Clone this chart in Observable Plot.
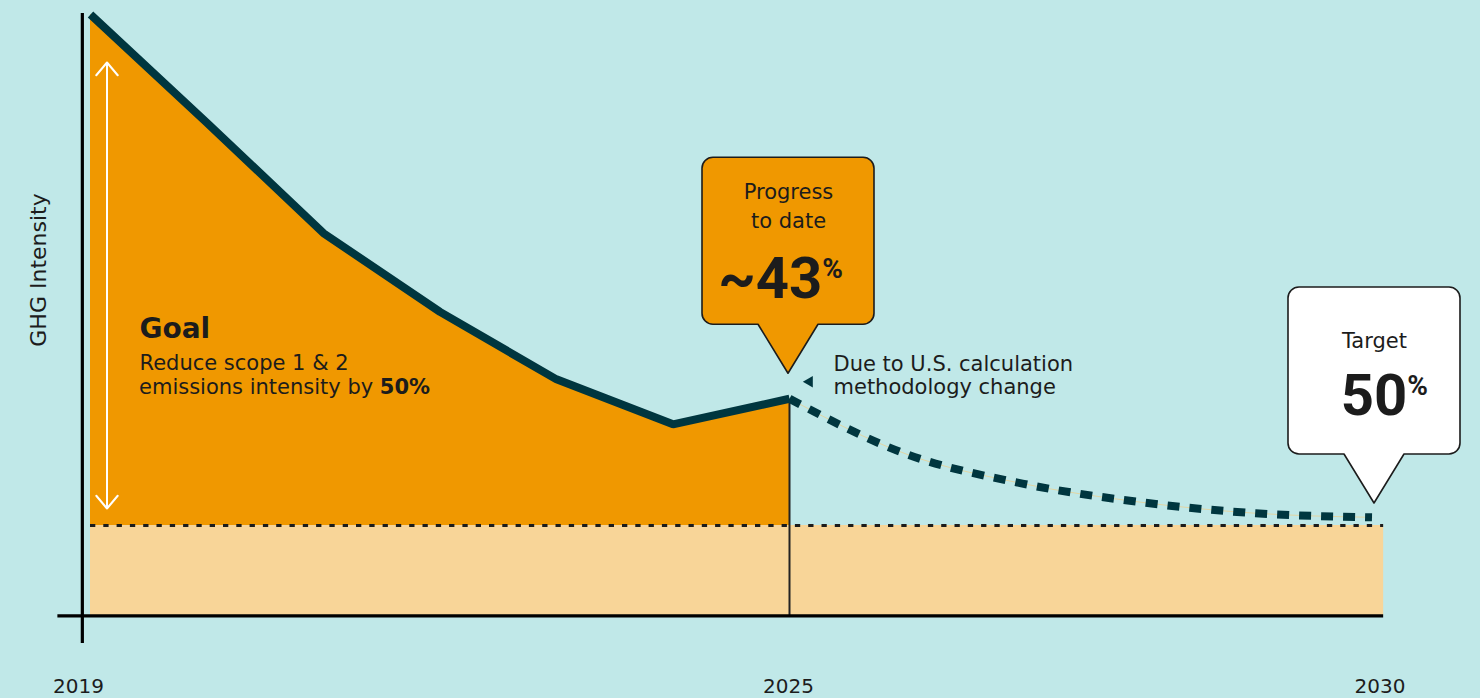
<!DOCTYPE html>
<html>
<head>
<meta charset="utf-8">
<script src="https://cdn.jsdelivr.net/npm/d3@7"></script>
<script src="https://cdn.jsdelivr.net/npm/@observablehq/plot@0.6"></script>
<style>
  html, body { margin: 0; padding: 0; background: #c0e8e8; }
  #chart svg { display: block; }
</style>
</head>
<body>
<div id="chart"></div>
<script>
// ---- data ----
const years = [2019, 2020, 2021, 2022, 2023, 2024, 2025];
const intensity = [100, 89.4, 78.6, 70.9, 64.3, 59.9, 62.4];   // index, 2019 = 100
const pathYears = [2025, 2026, 2027, 2028, 2029, 2030];
const pathIntensity = [62.4, 57.0, 54.1, 52.3, 51.2, 50.8];     // projected path to target
const targetIntensity = 50;                                    // 50% of 2019 baseline
const targetReduction = 50;
const progressReduction = 43;
const tickYears = [2019, 2025, 2030];
const tickLabels = ["2019", "2025", "2030"];

// axis geometry in data units
const axisBase = 41.15;   // value where the x-axis baseline sits
const xEnd = 2030.1;      // right end of the band
const yAxisX = 2018.93;   // position of the vertical axis
const xAxisStart = 2018.72;
const yAxisTop = 100.1, yAxisBottom = 38.45;

// ---- styles ----
const FONT = "'DejaVu Sans', 'Noto Sans', sans-serif";
const NUM_FONT = "Roboto, 'Liberation Sans', sans-serif";
const INK = "#1c1c1c";
const LINE = "#00363f";
const ORANGE = "#f09800";
const SAND = "#f8d598";
const BG = "#c0e8e8";

const series = years.map((year, i) => ({year, value: intensity[i]}));
const path = pathYears.map((year, i) => ({year, value: pathIntensity[i]}));
const first = series[0];
const last = series[series.length - 1];
const end = {year: 2030, value: targetIntensity};

// callout box with a downward pointer; tip anchored near a data point
function callout(point, {fill, dx = 0, dy = 0}) {
  return (index, scales) => {
    const tx = scales.x(point.year) + dx, ty = scales.y(point.value) + dy;
    const w = 172, h = 167, gap = 49, half = 30, r = 11;
    const l = tx - w / 2, rt = tx + w / 2, b = ty - gap, t = b - h;
    const d = `M${tx},${ty} L${tx - half},${b} L${l + r},${b} A${r},${r} 0 0 1 ${l},${b - r}`
      + ` L${l},${t + r} A${r},${r} 0 0 1 ${l + r},${t} L${rt - r},${t} A${r},${r} 0 0 1 ${rt},${t + r}`
      + ` L${rt},${b - r} A${r},${r} 0 0 1 ${rt - r},${b} L${tx + half},${b} Z`;
    return d3.create("svg:path")
      .attr("d", d).attr("fill", fill)
      .attr("stroke", INK).attr("stroke-width", 1.6).attr("stroke-linejoin", "round")
      .node();
  };
}

// big number with superscript percent sign
function figure(point, value, {dx = 0, dy = 0}) {
  return (index, scales) => {
    const t = d3.create("svg:text")
      .attr("x", scales.x(point.year) + dx).attr("y", scales.y(point.value) + dy)
      .attr("text-anchor", "end").attr("fill", INK)
      .attr("font-family", NUM_FONT).attr("font-weight", 700);
    t.append("tspan").attr("font-size", 58).text(value);
    t.append("tspan").attr("font-size", 28).attr("dy", -20).text("%");
    return t.node();
  };
}

// goal description line with a bold number
function goalLine(point, {dx = 0, dy = 0}) {
  return (index, scales) => {
    const t = d3.create("svg:text")
      .attr("x", scales.x(point.year) + dx).attr("y", scales.y(point.value) + dy)
      .attr("text-anchor", "start")
      .attr("fill", INK).attr("font-family", FONT).attr("font-size", 21)
      .attr("style", "white-space: pre");
    t.append("tspan").text("emissions intensity by ");
    t.append("tspan").attr("font-weight", 700).text(`${targetReduction}%`);
    return t.node();
  };
}

const goalAnchor = {year: first.year, value: targetIntensity};

const chart = Plot.plot({
  width: 1480,
  height: 698,
  margin: 0,
  style: {background: BG, fontFamily: FONT, overflow: "visible"},
  x: {domain: [2019, 2025], range: [90, 789], axis: null},
  y: {domain: [50, 100], range: [525, 14], axis: null},
  marks: [
    // target band below the goal level
    Plot.rect([targetIntensity], {x1: first.year, x2: xEnd, y1: axisBase, y2: d => d, fill: SAND}),
    // reduction achieved so far
    Plot.areaY(series, {x: "year", y1: targetIntensity, y2: "value", fill: ORANGE}),
    // dotted target level
    Plot.ruleY([targetIntensity], {x1: first.year, x2: xEnd, stroke: INK, strokeWidth: 3, strokeDasharray: "5.3,8"}),
    // drop line at 2025
    Plot.ruleX([last], {x: "year", y1: axisBase, y2: "value", stroke: "#222", strokeWidth: 2}),
    // projected path
    Plot.line(path, {x: "year", y: "value", curve: "monotone-x", stroke: "#e2d6a4", strokeWidth: 1}),
    Plot.line(path, {x: "year", y: "value", curve: "monotone-x", stroke: LINE, strokeWidth: 8,
      strokeDasharray: "12,10", strokeLinecap: "butt"}),
    // actual intensity
    Plot.line(series, {x: "year", y: "value", stroke: LINE, strokeWidth: 8,
      strokeLinecap: "butt", strokeLinejoin: "miter"}),
    // axes
    Plot.ruleY([axisBase], {x1: xAxisStart, x2: xEnd, stroke: "#000", strokeWidth: 3.2}),
    Plot.ruleX([yAxisX], {y1: yAxisBottom, y2: yAxisTop, stroke: "#000", strokeWidth: 3.2}),
    // double-headed goal arrow
    Plot.arrow([first], {x1: "year", x2: "year", y1: d => (d.value + targetIntensity) / 2, y2: "value",
      dx: 16.5, insetEnd: 48, stroke: "#fff", strokeWidth: 2, headLength: 12.5, headAngle: 80}),
    Plot.arrow([first], {x1: "year", x2: "year", y1: d => (d.value + targetIntensity) / 2, y2: () => targetIntensity,
      dx: 16.5, insetEnd: 17, stroke: "#fff", strokeWidth: 2, headLength: 12.5, headAngle: 80}),
    // y label
    Plot.text(["GHG Intensity"], {x: first.year, y: (first.value + targetIntensity) / 2, dx: -52, rotate: -90,
      fontSize: 22, fill: INK}),
    // x tick labels
    Plot.text([tickYears[0]], {x: d => d, text: () => tickLabels[0], frameAnchor: "bottom", lineAnchor: "bottom", dy: -6, dx: -12, fontSize: 20, fill: INK}),
    Plot.text([tickYears[1]], {x: d => d, text: () => tickLabels[1], frameAnchor: "bottom", lineAnchor: "bottom", dy: -6, dx: -1, fontSize: 20, fill: INK}),
    Plot.text([tickYears[2]], {x: d => d, text: () => tickLabels[2], frameAnchor: "bottom", lineAnchor: "bottom", dy: -6, dx: 8, fontSize: 20, fill: INK}),
    // goal annotation
    Plot.text([goalAnchor], {x: "year", y: "value", text: () => "Goal", dx: 49, dy: -188, textAnchor: "start",
      lineAnchor: "bottom", fontSize: 28, fontWeight: 700, fill: INK}),
    Plot.text([goalAnchor], {x: "year", y: "value", text: () => "Reduce scope 1 & 2", dx: 49, dy: -156, textAnchor: "start",
      lineAnchor: "bottom", fontSize: 21, fill: INK}),
    goalLine(goalAnchor, {dx: 49, dy: -131}),
    // progress callout
    callout(last, {fill: ORANGE, dx: -1, dy: -25}),
    Plot.text([last], {x: "year", y: "value", text: () => "Progress\nto date", dx: -1, dy: -171,
      lineAnchor: "bottom", lineHeight: 1.38, fontSize: 21, fill: INK}),
    figure(last, `~${progressReduction}`, {dx: 54, dy: -100}),
    // methodology note
    Plot.dot([last], {x: "year", y: "value", dx: 20, dy: -17, symbol: "triangle2", rotate: -90, r: 5.5, fill: LINE}),
    Plot.text([last], {x: "year", y: "value", text: () => "Due to U.S. calculation\nmethodology change",
      dx: 44, dy: -5, textAnchor: "start", lineAnchor: "bottom", lineHeight: 1.1, fontSize: 21, fill: INK}),
    // target callout
    callout(end, {fill: "#fff", dx: 2.5, dy: -22}),
    Plot.text([end], {x: "year", y: "value", text: () => "Target", dx: 2.5, dy: -178,
      lineAnchor: "bottom", fontSize: 21, fill: INK}),
    figure(end, `${targetReduction}`, {dx: 56.5, dy: -110})
  ]
});

document.getElementById("chart").append(chart);
</script>
</body>
</html>
